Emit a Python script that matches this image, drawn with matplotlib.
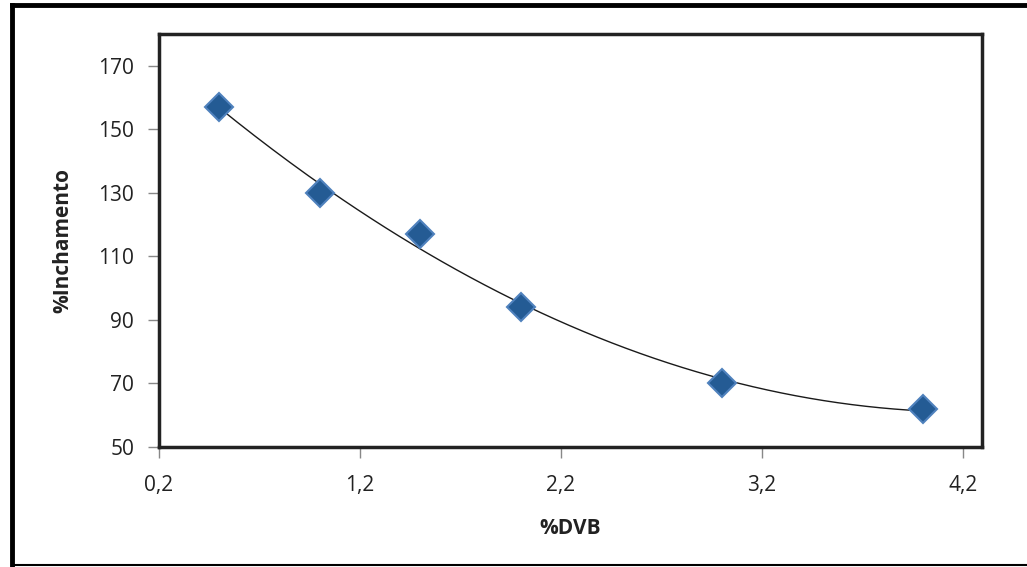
import numpy as np
import matplotlib
matplotlib.use('Agg')
import matplotlib.pyplot as plt
from matplotlib.lines import Line2D

# --------------- Data ---------------
dvb = [0.5, 1.0, 1.5, 2.0, 3.0, 4.0]
inchamento = [157, 130, 117, 94, 70, 62]
x_ticks = [0.2, 1.2, 2.2, 3.2, 4.2]
x_tick_labels = ['0,2', '1,2', '2,2', '3,2', '4,2']
y_ticks = [50, 70, 90, 110, 130, 150, 170]

plt.rcParams['font.family'] = ['Open Sans', 'DejaVu Sans']

W, H = 1027, 567
fig = plt.figure(figsize=(W / 100, H / 100), dpi=100)

# plot area in pixels: left 159, right 982, top 34, bottom 447
ax = fig.add_axes([159 / W, 1 - 447 / H, (982 - 159) / W, (447 - 34) / H])

# 2nd order polynomial trendline
coef = np.polyfit(dvb, inchamento, 2)
xs = np.linspace(min(dvb), max(dvb), 200)
ax.plot(xs, np.polyval(coef, xs), color='#1a1a1a', lw=1.0, zorder=2)

ax.plot(dvb, inchamento, linestyle='none', marker='D', markersize=14,
        markerfacecolor='#245b94', markeredgecolor='#4f81bd', markeredgewidth=1.5,
        zorder=3)

ax.set_xlim(0.2, 4.295)
ax.set_ylim(50, 180)
ax.set_xticks(x_ticks)
ax.set_xticklabels(x_tick_labels)
ax.set_yticks(y_ticks)

for s in ax.spines.values():
    s.set_linewidth(2.5)
    s.set_color('#222222')

ax.tick_params(axis='both', direction='out', length=8, width=1, color='#888888',
               labelsize=15, labelcolor='#222222')
ax.tick_params(axis='x', pad=12)
ax.tick_params(axis='y', pad=10)

ax.set_xlabel('%DVB', fontsize=15, fontweight='bold', labelpad=16, color='#222222')
ax.set_ylabel('%Inchamento', fontsize=15, fontweight='bold', labelpad=18, color='#222222')

# outer chart frame
fig.add_artist(Line2D([12 / W, 12 / W], [0, 1 - 5 / H], transform=fig.transFigure,
                      color='black', lw=3.5))
fig.add_artist(Line2D([12 / W, 1], [1 - 5 / H, 1 - 5 / H], transform=fig.transFigure,
                      color='black', lw=3.5))
fig.add_artist(Line2D([12 / W, 1], [1 - 565 / H, 1 - 565 / H], transform=fig.transFigure,
                      color='black', lw=1.5))

fig.savefig('out.png', dpi=100)
